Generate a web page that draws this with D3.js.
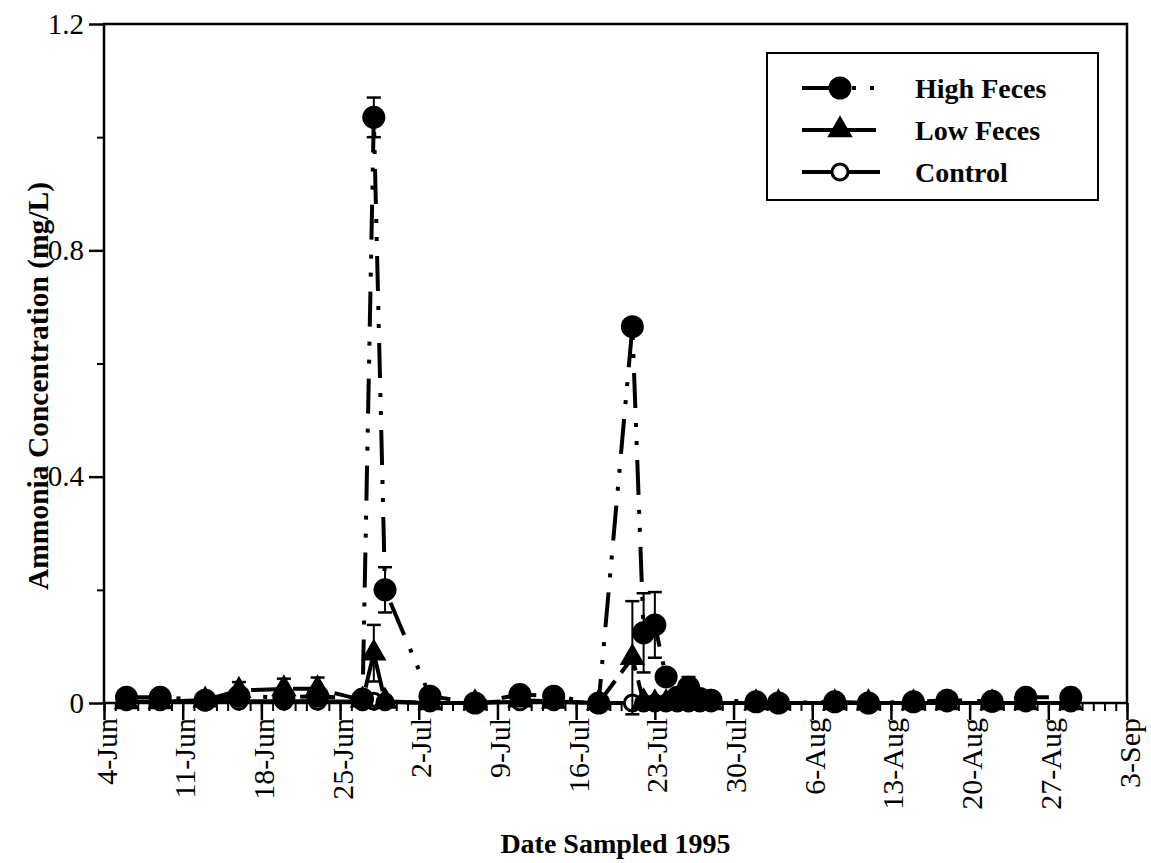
<!DOCTYPE html>
<html>
<head>
<meta charset="utf-8">
<script src="https://cdn.jsdelivr.net/npm/d3@7"></script>
<style>
  body { margin: 0; background: #fff; }
  svg { display: block; font-family: "Liberation Serif", "Times New Roman", serif; }
</style>
</head>
<body>
<div id="chart"></div>
<script>
// sample dates (1995) and values
var sampleDates = ["1995-06-06","1995-06-09","1995-06-13","1995-06-16","1995-06-20","1995-06-23",
  "1995-06-27","1995-06-28","1995-06-29","1995-07-03","1995-07-07","1995-07-11","1995-07-14",
  "1995-07-18","1995-07-21","1995-07-22","1995-07-23","1995-07-24","1995-07-25","1995-07-26",
  "1995-07-27","1995-07-28","1995-08-01","1995-08-03","1995-08-08","1995-08-11","1995-08-15",
  "1995-08-18","1995-08-22","1995-08-25","1995-08-29"];

var highFeces = [0.010,0.010,0.005,0.012,0.010,0.012,0.007,1.035,0.200,0.012,0.000,0.015,0.012,
  0.000,0.665,0.124,0.138,0.046,0.010,0.028,0.008,0.005,0.002,0.000,0.002,0.000,0.002,0.005,0.003,0.010,0.010];
var highErr = [0,0,0,0,0,0,0,0.035,0.040,0.008,0,0,0,0,0,0.070,0.058,0,0,0.018,0,0,0,0,0,0,0,0,0,0,0];

var lowFeces = [0.002,0.002,0.005,0.022,0.025,0.025,0.005,0.088,0.003,0.000,0.000,0.005,0.003,
  0.000,0.080,0.002,0.000,0.000,0.000,0.000,0.000,0.000,0.000,0.000,0.000,0.000,0.000,0.000,0.000,0.000,0.000];
var lowErr = [0,0,0,0.015,0.018,0.020,0,0.050,0,0,0,0,0,0,0.100,0,0,0,0,0,0,0,0,0,0,0,0,0,0,0,0];

var control = [0.002,0.002,0.002,0.003,0.003,0.003,0.002,0.003,0.002,0.000,0.000,0.002,0.002,
  0.000,0.000,0.000,0.000,0.000,0.000,0.000,0.000,0.000,0.000,0.000,0.000,0.000,0.000,0.000,0.000,0.000,0.000];

var yTicks = [0, 0.4, 0.8, 1.2];
var yMinorTicks = [0.2, 0.6, 1.0];
var xTickLabels = ["4-Jun","11-Jun","18-Jun","25-Jun","2-Jul","9-Jul","16-Jul","23-Jul",
  "30-Jul","6-Aug","13-Aug","20-Aug","27-Aug","3-Sep"];

var width = 1151, height = 863;
var margin = {top: 24, right: 24, bottom: 160, left: 104};

var parse = d3.timeParse("%Y-%m-%d");
var dates = sampleDates.map(parse);

var svg = d3.select("#chart")
  .append("svg")
  .attr("width", width)
  .attr("height", height);

var x = d3.scaleTime()
  .domain([parse("1995-06-04"), parse("1995-09-03")])
  .range([margin.left, width - margin.right]);

var y = d3.scaleLinear()
  .domain([0, 1.2])
  .range([height - margin.bottom, margin.top]);

var x0 = x.range()[0], x1 = x.range()[1], y0 = y.range()[0], y1 = y.range()[1];

// frame
svg.append("rect")
  .attr("x", x0).attr("y", y1)
  .attr("width", x1 - x0).attr("height", y0 - y1)
  .attr("fill", "none").attr("stroke", "black").attr("stroke-width", 2.5);

// Y axis
var yAxis = svg.append("g")
  .attr("transform", "translate(" + x0 + ",0)")
  .call(d3.axisLeft(y)
    .tickValues(yTicks)
    .tickSize(15)
    .tickPadding(5)
    .tickFormat(d => d === 0 ? "0" : d3.format(".1f")(d)));
yAxis.selectAll("text")
  .style("font-size", "29px")
  .style("font-family", "Liberation Serif");
yAxis.selectAll("line").attr("stroke-width", 2.5);
yAxis.select(".domain").remove();

svg.append("g")
  .attr("transform", "translate(" + x0 + ",0)")
  .call(d3.axisLeft(y).tickValues(yMinorTicks).tickSize(7).tickFormat(""))
  .call(g => g.select(".domain").remove())
  .selectAll("line").attr("stroke-width", 2);

// X axis: daily minor ticks, weekly labelled ticks
svg.append("g")
  .attr("transform", "translate(0," + y0 + ")")
  .call(d3.axisBottom(x).ticks(d3.timeDay.every(1)).tickSize(8).tickFormat(""))
  .call(g => g.select(".domain").remove())
  .selectAll("line").attr("stroke-width", 2);

var weekly = d3.timeDay.range(x.domain()[0], d3.timeDay.offset(x.domain()[1], 1), 7);
var xAxis = svg.append("g")
  .attr("transform", "translate(0," + y0 + ")")
  .call(d3.axisBottom(x)
    .tickValues(weekly)
    .tickSize(17)
    .tickFormat((d, i) => xTickLabels[i]));
xAxis.select(".domain").remove();
xAxis.selectAll("line").attr("stroke-width", 2.5);
xAxis.selectAll("text")
  .attr("transform", "rotate(-90)")
  .attr("x", -15)
  .attr("y", 0)
  .attr("dy", "0.4em")
  .style("text-anchor", "end")
  .style("font-size", "30px")
  .style("font-family", "Liberation Serif");

// axis titles
svg.append("text")
  .attr("transform", "translate(38," + 386 + ")rotate(-90)")
  .attr("text-anchor", "middle")
  .attr("dy", "0.35em")
  .style("font-size", "29.5px")
  .style("font-weight", "bold")
  .text("Ammonia Concentration (mg/L)");

svg.append("text")
  .attr("x", (x0 + x1) / 2)
  .attr("y", 853)
  .attr("text-anchor", "middle")
  .style("font-size", "28px")
  .style("font-weight", "bold")
  .text("Date Sampled 1995");

// series
var series = [
  {name: "Control", values: control, err: null, dash: null, marker: "open"},
  {name: "Low Feces", values: lowFeces, err: lowErr, dash: "32,10", marker: "triangle"},
  {name: "High Feces", values: highFeces, err: highErr, dash: "35,15,4,14,4,15", marker: "circle"}
];

var line = d3.line()
  .x(d => x(d.date))
  .y(d => y(d.value));

var triangle = d3.symbol().type(d3.symbolTriangle).size(280);

function drawMarker(sel, type) {
  if (type === "circle") {
    sel.append("circle").attr("r", 11.5).attr("fill", "black");
  } else if (type === "triangle") {
    sel.append("path").attr("d", triangle).attr("fill", "black");
  } else {
    sel.append("circle").attr("r", 8).attr("fill", "white")
      .attr("stroke", "black").attr("stroke-width", 3);
  }
}

series.forEach(function(s) {
  var pts = dates.map((d, i) => ({date: d, value: s.values[i], err: s.err ? s.err[i] : 0}));
  var g = svg.append("g");

  g.append("path")
    .datum(pts)
    .attr("d", line)
    .attr("fill", "none")
    .attr("stroke", "black")
    .attr("stroke-width", 4)
    .attr("stroke-dasharray", s.dash);

  // error bars
  var eb = g.selectAll(".err")
    .data(pts.filter(p => p.err > 0))
    .enter().append("g");
  eb.append("line")
    .attr("x1", p => x(p.date)).attr("x2", p => x(p.date))
    .attr("y1", p => y(p.value - p.err)).attr("y2", p => y(p.value + p.err))
    .attr("stroke", "black").attr("stroke-width", 2);
  [-1, 1].forEach(function(sign) {
    eb.append("line")
      .attr("x1", p => x(p.date) - 7).attr("x2", p => x(p.date) + 7)
      .attr("y1", p => y(p.value + sign * p.err)).attr("y2", p => y(p.value + sign * p.err))
      .attr("stroke", "black").attr("stroke-width", 2.5);
  });

  g.selectAll(".pt")
    .data(pts)
    .enter().append("g")
    .attr("transform", p => "translate(" + x(p.date) + "," + y(p.value) + ")")
    .each(function() { drawMarker(d3.select(this), s.marker); });
});

// legend
var legend = svg.append("g");
legend.append("rect")
  .attr("x", 767).attr("y", 53)
  .attr("width", 331).attr("height", 147)
  .attr("fill", "white").attr("stroke", "black").attr("stroke-width", 2);

var legendRows = [series[2], series[1], series[0]];
legendRows.forEach(function(s, i) {
  var ly = 88 + i * 42;
  legend.append("line")
    .attr("x1", 802).attr("x2", 880)
    .attr("y1", ly).attr("y2", ly)
    .attr("stroke", "black").attr("stroke-width", 4)
    .attr("stroke-dasharray", s.dash);
  var m = legend.append("g").attr("transform", "translate(840," + ly + ")");
  drawMarker(m, s.marker);
  legend.append("text")
    .attr("x", 915).attr("y", ly)
    .attr("dy", "0.35em")
    .style("font-size", "28px")
    .style("font-weight", "bold")
    .text(s.name);
});
</script>
</body>
</html>
